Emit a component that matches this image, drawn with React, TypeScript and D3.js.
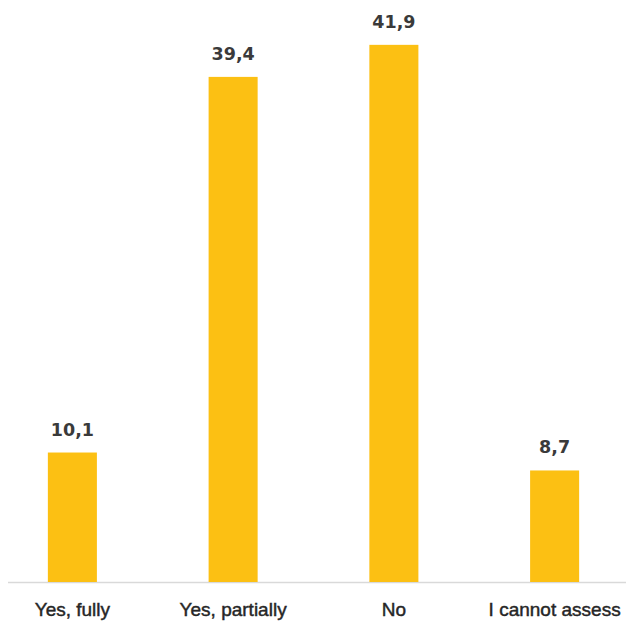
import React from "react";
import * as d3 from "d3";

const categories = ["Yes, fully", "Yes, partially", "No", "I cannot assess"];
const values = [10.1, 39.4, 41.9, 8.7];
const valueLabels = ["10,1", "39,4", "41,9", "8,7"];

export default function App() {
  const width = 626;
  const height = 621;
  const baseline = 582;

  const x = d3
    .scaleBand<string>()
    .domain(categories)
    .range([-8, 635])
    .paddingInner(0.695)
    .paddingOuter(0.3475);

  const y = d3.scaleLinear().domain([0, 45]).range([baseline, 5.1]);

  return (
    <svg
      width={width}
      height={height}
      style={{ position: "absolute", left: 0, top: 0, background: "#fff" }}
    >
      <line x1={8} x2={626} y1={baseline + 0.5} y2={baseline + 0.5} stroke="#d9d9d9" strokeWidth={1.5} />
      {categories.map((c, i) => {
        const bx = x(c) as number;
        const bw = x.bandwidth();
        const top = y(values[i]);
        return (
          <g key={c}>
            <rect x={bx} y={top} width={bw} height={baseline - top} fill="#FCC013" />
            <text
              x={bx + bw / 2}
              y={top - 17}
              textAnchor="middle"
              fontFamily="'DejaVu Sans', sans-serif"
              fontWeight="bold"
              fontSize={17.5}
              fill="#3a3a3a"
            >
              {valueLabels[i]}
            </text>
            <text
              x={bx + bw / 2}
              y={616}
              textAnchor="middle"
              fontFamily="'Liberation Sans', Arial, sans-serif"
              fontSize={19}
              fill="#262626"
              stroke="#262626"
              strokeWidth={0.45}
            >
              {c}
            </text>
          </g>
        );
      })}
    </svg>
  );
}
